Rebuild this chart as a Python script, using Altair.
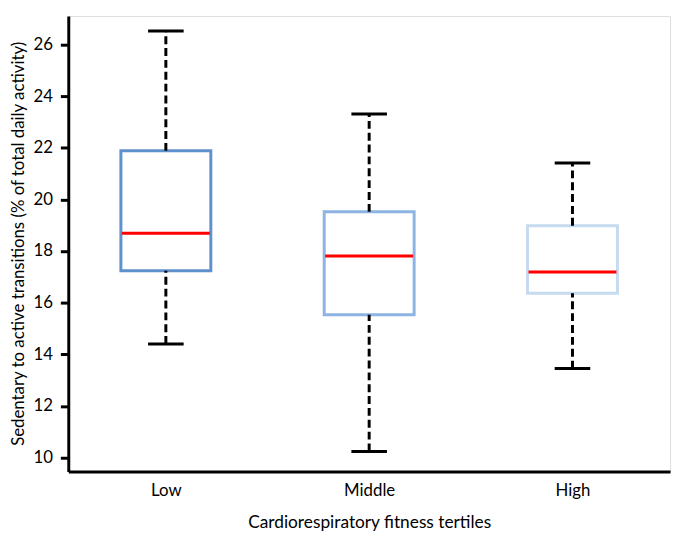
import altair as alt
import pandas as pd

categories = ["Low", "Middle", "High"]
whisker_low = [14.40, 10.24, 13.45]
q1 = [17.24, 15.53, 16.37]
median = [18.69, 17.81, 17.19]
q3 = [21.88, 19.52, 18.98]
whisker_high = [26.52, 23.31, 21.41]
box_colors = ["#5F91CD", "#8DB4E2", "#C6DAF0"]
y_ticks = [10, 12, 14, 16, 18, 20, 22, 24, 26]

df = pd.DataFrame({
    "cat": categories,
    "lo": whisker_low,
    "q1": q1,
    "med": median,
    "q3": q3,
    "hi": whisker_high,
})

FONT = "Lato"
x_enc = alt.X(
    "cat:N",
    sort=categories,
    scale=alt.Scale(type="point", padding=0.48),
    axis=alt.Axis(
        title="Cardiorespiratory fitness tertiles",
        labelAngle=0,
        ticks=False,
        labelPadding=11,
        labelFontSize=17,
        titleFontSize=17.5,
        titlePadding=16,
        labelFont=FONT,
        titleFont=FONT,
        labelColor="#000000",
        titleColor="#000000",
        titleFontWeight="normal",
        domainColor="#000000",
        domainWidth=3,
        grid=False,
    ),
)
y_scale = alt.Scale(domain=[9.46, 27.1], nice=False, zero=False)

base = alt.Chart(df)

boxes = base.mark_bar(size=91, fill="white", strokeWidth=3).encode(
    x=x_enc,
    y=alt.Y(
        "q1:Q",
        scale=y_scale,
        axis=alt.Axis(
            title="Sedentary to active transitions (% of total daily activity)",
            values=y_ticks,
            tickSize=8,
            tickWidth=3,
            tickColor="#000000",
            domainColor="#000000",
            domainWidth=3,
            labelPadding=8,
            labelFontSize=17,
            titleFontSize=17,
            labelFont=FONT,
            titleFont=FONT,
            labelColor="#000000",
            titleColor="#000000",
            titleFontWeight="normal",
            titleAngle=-90,
            titleX=-50,
            titleY=230,
            titleAlign="center",
            titleBaseline="middle",
            grid=False,
        ),
    ),
    y2="q3:Q",
    stroke=alt.Stroke("cat:N", scale=alt.Scale(domain=categories, range=box_colors), legend=None),
)

upper = base.mark_rule(color="black", strokeWidth=3, strokeDash=[8, 4]).encode(
    x=alt.X("cat:N", sort=categories), y=alt.Y("q3:Q"), y2="hi:Q"
)
lower = base.mark_rule(color="black", strokeWidth=3, strokeDash=[8, 4]).encode(
    x=alt.X("cat:N", sort=categories), y=alt.Y("lo:Q"), y2="q1:Q"
)
cap_hi = base.mark_tick(color="black", size=36, thickness=3, opacity=1).encode(
    x=alt.X("cat:N", sort=categories), y=alt.Y("hi:Q")
)
cap_lo = base.mark_tick(color="black", size=36, thickness=3, opacity=1).encode(
    x=alt.X("cat:N", sort=categories), y=alt.Y("lo:Q")
)
med = base.mark_tick(color="#FF0000", size=89, thickness=3, opacity=1).encode(
    x=alt.X("cat:N", sort=categories), y=alt.Y("med:Q")
)

chart = (
    alt.layer(boxes, upper, lower, cap_hi, cap_lo, med)
    .properties(
        width=609,
        height=461,
        autosize=alt.AutoSizeParams(type="none"),
        padding={"left": 61, "top": 5, "right": 5, "bottom": 59},
    )
    .configure_view(stroke=None)
    .configure(background="white")
)

chart.save("out.html", embed_options={"renderer": "svg", "actions": False})
